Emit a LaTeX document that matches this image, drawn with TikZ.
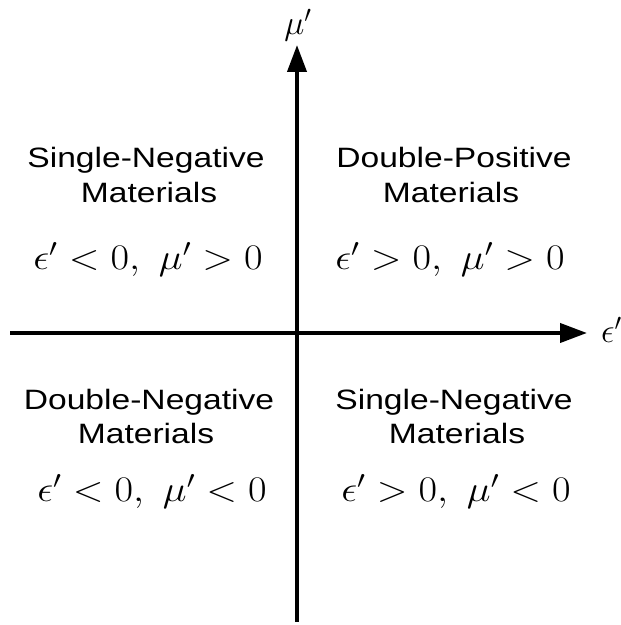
\RequirePackage{fix-cm}
\documentclass[tikz,border=0pt]{standalone}
\usepackage[no-math]{fontspec}
\newfontfamily\arialfont{Liberation Sans}
\usetikzlibrary{arrows.meta, positioning}
\newcommand{\widen}[2][1.2]{\scalebox{#1}[1]{#2}}

\begin{document}
\begin{tikzpicture}[x=1pt, y=1pt,
    word/.style={anchor=base, inner sep=0pt, font=\arialfont\fontsize{28}{34}\selectfont},
    formula/.style={anchor=base, inner sep=0pt, font=\fontsize{36}{42}\selectfont},
    axislabel/.style={inner sep=0pt, font=\fontsize{34}{40}\selectfont},
    axis/.style={line width=4pt, -{Triangle[length=27pt, width=19pt]}},
]
\useasboundingbox (0,0) rectangle (621,625);

% axes
\coordinate (west) at (10,292);
\coordinate (east) at (587,292);
\coordinate (south) at (297,3);
\coordinate (north) at (297,580);
\draw[axis] (west) -- (east);
\draw[axis] (south) -- (north);
\node[axislabel, anchor=base west] (epslabel) at (601,282) {$\epsilon'$};
\node[axislabel, anchor=base] (mulabel) at (298,590) {$\mu'$};

% quadrant II
\node[word] (snTop) at (146,457) {\widen{Single-Negative}};
\node[word] (snTopMat) at (149,422) {\widen{Materials}};
\node[formula] (snTopEq) at (148,355) {\widen[1.12]{$\epsilon'<0,\ \mu'>0$}};

% quadrant I
\node[word] (dp) at (454,457) {\widen{Double-Positive}};
\node[word] (dpMat) at (451,422) {\widen{Materials}};
\node[formula] (dpEq) at (450,355) {\widen[1.12]{$\epsilon'>0,\ \mu'>0$}};

% quadrant III
\node[word] (dn) at (149,215) {\widen{Double-Negative}};
\node[word] (dnMat) at (146,181) {\widen{Materials}};
\node[formula] (dnEq) at (152,123) {\widen[1.12]{$\epsilon'<0,\ \mu'<0$}};

% quadrant IV
\node[word] (snBot) at (454,215) {\widen{Single-Negative}};
\node[word] (snBotMat) at (457,181) {\widen{Materials}};
\node[formula] (snBotEq) at (456,123) {\widen[1.12]{$\epsilon'>0,\ \mu'<0$}};
\end{tikzpicture}
\end{document}
